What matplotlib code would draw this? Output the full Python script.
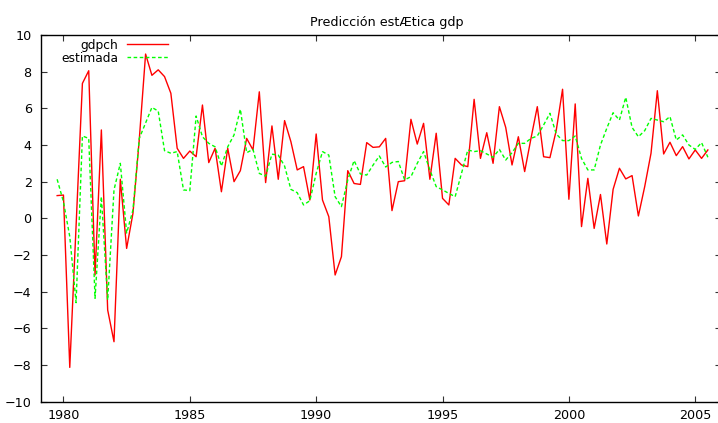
import numpy as np
import matplotlib
matplotlib.use("Agg")
import matplotlib.pyplot as plt

# quarterly data, first quarter 1979Q4
start_year = 1979.75

gdpch = [1.24, 1.27, -8.13, -0.4, 7.36, 8.05, -3.09, 4.82, -5.0, -6.73,
         2.13, -1.64, 0.27, 4.3, 8.96, 7.8, 8.1, 7.73, 6.82, 3.82,
         3.27, 3.67, 3.36, 6.18, 3.04, 3.82, 1.45, 3.82, 2.0, 2.6,
         4.36, 3.73, 6.9, 1.95, 5.04, 2.13, 5.33, 4.18, 2.64, 2.82,
         1.0, 4.6, 1.0, 0.09, -3.09, -2.09, 2.6, 1.9, 1.85, 4.13,
         3.87, 3.9, 4.36, 0.42, 2.0, 2.05, 5.4, 4.05, 5.18, 2.13,
         4.64, 1.09, 0.73, 3.27, 2.91, 2.82, 6.49, 3.27, 4.67, 3.0,
         6.09, 4.96, 2.91, 4.45, 2.55, 4.36, 6.09, 3.36, 3.31, 4.8,
         7.04, 1.04, 6.24, -0.45, 2.18, -0.55, 1.3, -1.4, 1.58, 2.73,
         2.15, 2.33, 0.13, 1.73, 3.55, 6.96, 3.51, 4.15, 3.42, 3.91,
         3.24, 3.73, 3.27, 3.73]

estimada = [2.13, 0.9, -1.0, -4.6, 4.49, 4.36, -4.36, 1.18, -4.45, 1.55,
            3.0, -0.8, 0.45, 4.36, 5.2, 6.05, 5.85, 3.69, 3.55, 3.64,
            1.55, 1.51, 5.58, 4.45, 4.09, 3.9, 2.85, 3.9, 4.55, 5.95,
            3.58, 3.76, 2.45, 2.3, 3.5, 3.45, 2.85, 1.58, 1.4, 0.73,
            0.96, 2.45, 3.64, 3.45, 1.18, 0.64, 2.09, 3.15, 2.42, 2.36,
            2.9, 3.4, 2.8, 3.05, 3.1, 2.1, 2.27, 3.0, 3.64, 2.64,
            1.73, 1.55, 1.36, 1.18, 2.45, 3.73, 3.64, 3.69, 3.51, 3.33,
            3.76, 3.18, 3.58, 4.09, 4.09, 4.36, 4.49, 5.09, 5.73, 4.6,
            4.24, 4.24, 4.49, 3.27, 2.64, 2.64, 4.0, 4.91, 5.76, 5.36,
            6.6, 4.96, 4.45, 4.78, 5.45, 5.36, 5.27, 5.55, 4.27, 4.55,
            4.0, 3.76, 4.13, 3.33]

xticks = [1980, 1985, 1990, 1995, 2000, 2005]
yticks = [-10, -8, -6, -4, -2, 0, 2, 4, 6, 8, 10]

t = start_year + 0.25 * np.arange(len(gdpch))

plt.rcParams['font.family'] = ['DejaVu Sans']
plt.rcParams['font.size'] = 9.2

fig = plt.figure(figsize=(7.18, 4.23), dpi=100)
ax = fig.add_axes([0.0567, 0.0504, 0.9468, 0.8669])

ax.plot(t, gdpch, color='#ff0000', lw=1.0, label='gdpch')
ax.plot(t, estimada, color='#00ff00', lw=1.0, linestyle=(0, (2.6, 1.8)),
        label='estimada')

ax.set_xlim(1979.1, 2006)
ax.set_ylim(-10, 10)
ax.set_xticks(xticks)
ax.set_yticks(yticks)

ax.tick_params(direction='in', top=True, right=True, length=4.5, width=0.8,
               color='#333333')
ax.tick_params(axis='x', pad=5)
ax.tick_params(axis='y', pad=6.5)
for s in ax.spines.values():
    s.set_linewidth(1.0)

ax.set_title('Predicción estÆtica gdp', x=0.509, pad=6.5, fontsize=9.2)

leg = ax.legend(loc='upper left', bbox_to_anchor=(0.03, 0.99),
                frameon=False, markerfirst=False, handlelength=3.4,
                handletextpad=0.7, labelspacing=0.0, borderpad=0,
                borderaxespad=0, fontsize=8.8)

fig.savefig('out.png', dpi=100, facecolor='white')
